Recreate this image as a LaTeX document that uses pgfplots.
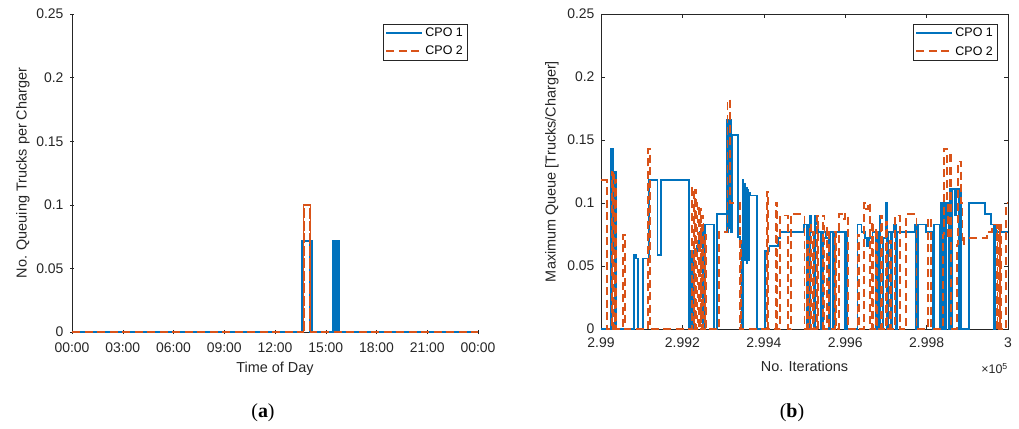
\documentclass[border=0pt]{standalone}
\usepackage{pgfplots}
\pgfplotsset{compat=1.18}
\usepackage{fontspec}
\setmainfont{Liberation Sans}
\newfontfamily\capfont{Liberation Serif}
\definecolor{mblue}{rgb}{0,0.447,0.741}
\definecolor{morange}{rgb}{0.85,0.325,0.098}
\definecolor{axgray}{rgb}{0.15,0.15,0.15}
\pgfplotsset{
  mystyle/.style={
    scale only axis,
    clip=false,
    /pgf/number format/assume math mode=true,
    tick align=inside,
    major tick length=4bp,
    axis line style={axgray, line width=0.5bp},
    every tick/.style={axgray, line width=0.5bp},
    tick label style={font=\fontsize{14}{14}\selectfont, text=axgray},
    xticklabel style={yshift=-5bp},
    yticklabel style={xshift=-3bp},
    every axis y label/.style={at={(axis description cs:0,0.5)}, xshift=-49bp, rotate=90, anchor=center, font=\fontsize{14.5}{14.5}\selectfont, text=axgray},
    every axis x label/.style={at={(axis description cs:0.5,0)}, yshift=-37bp, anchor=center, font=\fontsize{14.5}{14.5}\selectfont, text=axgray},
    ymin=0, ymax=0.25, ytick={0,0.05,0.1,0.15,0.2,0.25},
    yticklabels={0,0.05,0.1,0.15,0.2,0.25},
    legend style={font=\fontsize{12.5}{12.5}\selectfont, draw=axgray, anchor=north east, inner xsep=2bp, inner ysep=2bp, row sep=4bp},
    legend cell align=left,
  },
  cpo1/.style={const plot, mblue, line width=1.8bp,
    legend image code/.code={\draw[mblue, line width=2bp, solid] (0bp,0.5bp) -- (36bp,0.5bp);}},
  cpo2/.style={const plot, morange, line width=1.8bp, dash pattern=on 8bp off 4.5bp,
    legend image code/.code={\draw[morange, line width=2bp, dash pattern=on 8bp off 4.5bp] (0bp,0.5bp) -- (36bp,0.5bp);}},
}
\begin{document}
\begin{tikzpicture}[x=1bp,y=1bp]
\useasboundingbox (0,0) rectangle (1019,428);
% ---------- (a) ----------
\begin{axis}[mystyle,
  at={(72bp,96bp)}, anchor=south west, width=406bp, height=318bp,
  axis lines=left, axis line style={-},
  xmin=0, xmax=24, xtick={0,3,6,9,12,15,18,21,24},
  xticklabels={00:00,03:00,06:00,09:00,12:00,15:00,18:00,21:00,00:00},
  xlabel={Time of Day}, ylabel={No. Queuing Trucks per Charger},
  legend style={at={(0.973,0.969)}},
]
\addplot[cpo1] coordinates {
(0,0) (13.58,0.0714) (13.60,0) (13.62,0.0714) (13.66,0) (13.67,0.0714) (14.05,0) (14.07,0.0714) (14.12,0) (14.14,0.0714) (14.2,0)
(15.45,0.0714) (15.49,0) (15.50,0.0714) (15.54,0) (15.55,0.0714) (15.59,0) (15.60,0.0714) (15.64,0) (15.65,0.0714) (15.69,0) (15.70,0.0714) (15.74,0) (15.75,0.0714) (15.8,0) (24,0)};
\addlegendentry{CPO 1}
\addplot[cpo2] coordinates {
(0,0) (13.68,0.1) (13.70,0) (13.72,0.1) (14.05,0) (14.07,0.1) (14.1,0) (24,0)};
\addlegendentry{CPO 2}
\end{axis}
% ---------- (b) ----------
\begin{axis}[mystyle,
  at={(601bp,99bp)}, anchor=south west, width=407bp, height=315bp,
  xmin=0, xmax=1000, xtick={0,200,400,600,800,1000},
  xticklabels={2.99,2.992,2.994,2.996,2.998,3},
  xlabel={No. Iterations}, ylabel={Maximum Queue [Trucks/Charger]},
  legend style={at={(0.973,0.968)}},
]
\addplot[cpo1] coordinates {
(0,0) (24,0.143) (26,0) (27,0.143) (29,0.06) (30,0.125) (34,0) (35,0.125) (37,0)
(81,0.059) (85,0.056) (90,0) (104,0.056) (117,0.118) (139,0.059) (147,0.118) (217,0)
(219,0.062) (224,0) (226,0.062) (235,0.066) (240,0.072) (244,0.077) (251,0) (256,0.083) (277,0)
(284,0.091) (309,0.077) (310,0.166) (312,0.077) (313,0.16) (315,0.08) (317,0.166) (319,0.077)
(321,0.154) (336,0.073) (341,0.068) (345,0)
(348,0.118) (350,0.06) (352,0.115) (354,0.055) (356,0.112) (358,0.052) (360,0.11) (362,0.055) (364,0.108) (366,0.106) (383,0)
(403,0.062) (414,0.066) (434,0.072) (440,0.077) (499,0.083) (505,0) (507,0.083) (511,0)
(513,0.09) (515,0.077) (524,0) (526,0.09) (528,0.083) (534,0.077) (540,0) (545,0.077) (552,0.072) (560,0)
(562,0.077) (570,0) (572,0.077) (600,0) (602,0.077) (605,0)
(630,0.083) (640,0.077) (648,0.072) (653,0.066) (659,0.072) (667,0.077) (676,0) (680,0.077) (684,0.09) (686,0)
(692,0.072) (700,0.1) (702,0) (706,0.077) (712,0) (716,0.077) (720,0.083) (725,0) (727,0.077)
(772,0.083) (774,0) (776,0.083) (778,0) (780,0.083) (799,0.077) (815,0) (818,0.083) (832,0)
(834,0.1) (836,0) (838,0.1) (840,0) (842,0.1) (846,0) (848,0.1) (850,0.09) (852,0.1) (855,0)
(857,0.111) (860,0) (862,0.111) (870,0.09) (872,0.111) (880,0) (882,0.111) (885,0)
(904,0.1) (943,0.091) (959,0.083) (966,0) (969,0.083) (971,0.077) (1000,0.077)};
\addlegendentry{CPO 1}
\addplot[cpo2] coordinates {
(0,0.118) (14,0) (26,0.125) (28,0) (30,0.125) (33,0) (35,0.118) (37,0)
(54,0.075) (58,0) (116,0.143) (120,0)
(224,0.112) (228,0) (231,0.11) (234,0) (237,0.1) (240,0) (243,0.095) (246,0) (249,0.09) (252,0) (255,0.075) (257,0)
(290,0.077) (311,0.182) (316,0.1) (341,0) (343,0.07) (345,0)
(408,0.109) (411,0) (430,0.1) (433,0) (440,0.09) (460,0) (466,0.091) (500,0)
(505,0.07) (508,0) (512,0.083) (515,0) (520,0.077) (523,0) (530,0.09) (533,0) (545,0.09) (549,0) (556,0.08) (560,0)
(575,0.077) (578,0) (585,0.091) (596,0.087) (600,0.091) (606,0)
(630,0.075) (633,0) (647,0.1) (650,0.095) (655,0.1) (660,0) (665,0.085) (668,0) (675,0.08) (678,0)
(688,0.09) (691,0) (700,0.085) (703,0) (710,0.07) (713,0) (722,0.09) (734,0)
(750,0.091) (775,0) (804,0.088) (810,0)
(840,0.075) (843,0.143) (850,0.1) (853,0.072) (857,0.14) (860,0)
(875,0.067) (878,0.133) (885,0.1) (888,0.067) (892,0.072) (948,0.077) (960,0.083) (972,0)
(974,0.083) (978,0) (980,0.083) (983,0) (996,0.1) (1000,0.1)};
\addlegendentry{CPO 2}
\node[anchor=north east, inner sep=0pt, text=axgray, font=\fontsize{12.5}{12.5}\selectfont] at (rel axis cs:1,0) [yshift=-34bp] {×10\textsuperscript{5}};
\end{axis}
\node[font=\fontsize{20}{20}\selectfont\capfont] at (263bp,15bp) {(\textbf{a})};
\node[font=\fontsize{20}{20}\selectfont\capfont] at (792bp,15bp) {(\textbf{b})};
\end{tikzpicture}
\end{document}
